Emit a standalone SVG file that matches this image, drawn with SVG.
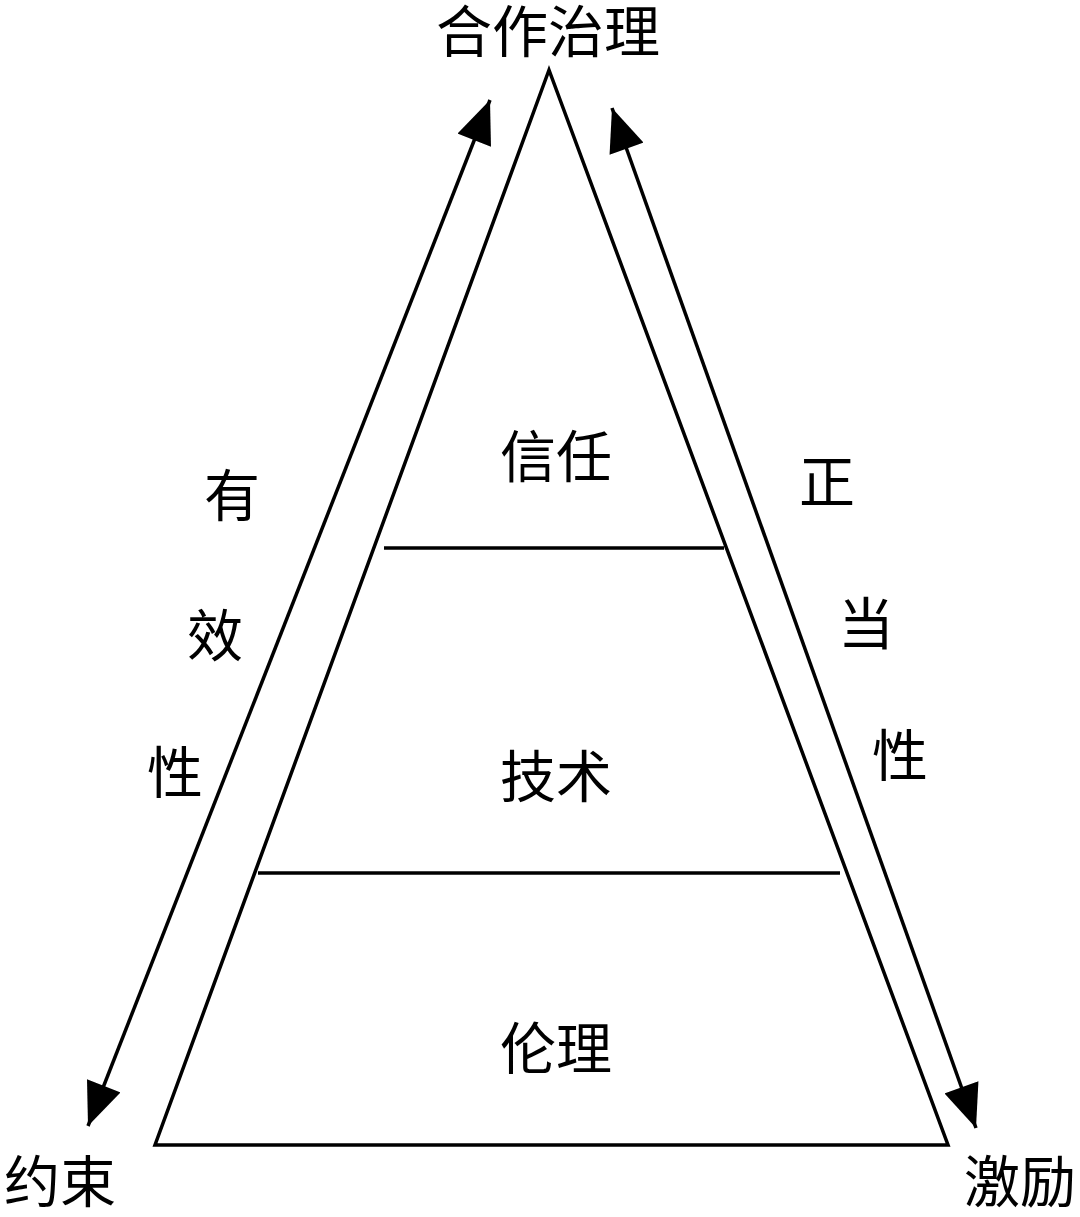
<svg xmlns="http://www.w3.org/2000/svg" width="1080" height="1217" viewBox="0 0 1080 1217">
<style>
text{font-family:"Liberation Serif","Noto Sans CJK SC",serif;font-size:56px;fill:#000;text-anchor:middle}
.l{stroke:#000;stroke-width:3.5;fill:none}
</style>
<defs><marker id="a" viewBox="0 0 12 10" refX="12" refY="5" markerWidth="44" markerHeight="36" markerUnits="userSpaceOnUse" orient="auto-start-reverse"><path d="M0,0L12,5L0,10z" fill="#000"/></marker>
</defs>
<rect width="1080" height="1217" fill="#fff"/>
<g id="pyramid"><polygon class="l" points="549,70 155,1145 948,1145"/></g>
<g id="n1"><text x="556" y="477">信任</text></g>
<g id="n2"><text x="556" y="797">技术</text></g>
<g id="n3"><text x="556" y="1069">伦理</text></g>
<g id="top"><text x="548" y="52">合作治理</text></g>
<g id="bl"><text x="60" y="1202">约束</text></g>
<g id="br"><text x="1020" y="1202">激励</text></g>
<g id="left"><text x="232" y="516">有</text><text x="215" y="656">效</text><text x="175" y="793">性</text></g>
<g id="right"><text x="827" y="502">正</text><text x="866" y="644">当</text><text x="900" y="776">性</text></g>
<g id="connectors">
<line class="l" x1="384" y1="548" x2="724" y2="548"/>
<line class="l" x1="258" y1="873" x2="840" y2="873"/>
<line class="l" x1="88" y1="1126" x2="490" y2="100" marker-start="url(#a)" marker-end="url(#a)"/>
<line class="l" x1="612" y1="108" x2="976" y2="1128" marker-start="url(#a)" marker-end="url(#a)"/>
</g>
</svg>
